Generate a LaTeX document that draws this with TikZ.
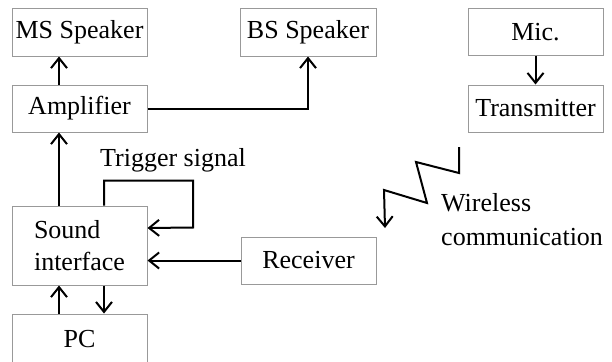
\documentclass[tikz,border=0pt]{standalone}
\usepackage{fontspec}
\setmainfont{LiberationSerif}[Extension=.ttf, UprightFont=*-Regular, BoldFont=*-Bold]
\usetikzlibrary{arrows.meta}
\begin{document}
\begin{tikzpicture}[x=1pt,y=-1pt,
  every node/.style={font=\rmfamily\fontsize{26}{32}\selectfont, inner sep=0pt},
  blk/.style={draw=black!40, line width=1pt, minimum width=135pt, minimum height=47pt},
  arr/.style={line width=2pt, -{Straight Barb[length=10pt,width=16pt,line width=2pt]}}]
\useasboundingbox (0,0) rectangle (612,361);

% blocks
\node[blk] (ms)  at (79.5,32.5)  {MS Speaker};
\node[blk, minimum width=136pt] (bs) at (308,32.5) {BS Speaker};
\node[blk] (amp) at (79.5,108.5) {Amplifier};
\node[blk, minimum height=79pt, align=left] (snd) at (79.5,245.5) {Sound\\interface};
\node[blk, minimum height=50pt] (pc) at (79.5,339) {PC};
\node[blk] (rx)  at (308.5,260.5) {Receiver};
\node[blk, minimum height=46pt] (mic) at (535.5,32) {Mic.};
\node[blk] (tx)  at (535.5,108.5) {Transmitter};

% labels
\node[anchor=base west] (trig) at (100,166) {Trigger signal};
\node[anchor=north west, align=left, font=\rmfamily\fontsize{26}{34}\selectfont] (wl) at (441,193) {Wireless\\communication};

% connectors
\draw[arr] ([xshift=-20.5pt]amp.north) -- ([xshift=-20.5pt]ms.south);
\draw[arr] (amp.east) -| (bs.south);
\draw[arr] ([xshift=-20.5pt]snd.north) -- ([xshift=-20.5pt]amp.south);
\draw[arr] ([xshift=24.5pt]snd.north) -- ++(0,-25) -- ++(89,0) -- ++(0,47) -- ([yshift=17.5pt]snd.east);
\draw[arr] (rx.west) -- (rx.west -| snd.east);
\draw[arr] ([xshift=-20.5pt]pc.north) -- ([xshift=-20.5pt]snd.south);
\draw[arr] ([xshift=24.5pt]snd.south) -- ([xshift=24.5pt]pc.north);
\draw[arr] (mic.south) -- (tx.north);

% wireless link zigzag
\coordinate (z0) at (459,147);
\coordinate (z5) at (385,228);
\draw[arr, line join=miter] (z0) -- (459,173) -- (416,162) -- (427,203) -- (384,190) -- (z5);
\end{tikzpicture}
\end{document}
